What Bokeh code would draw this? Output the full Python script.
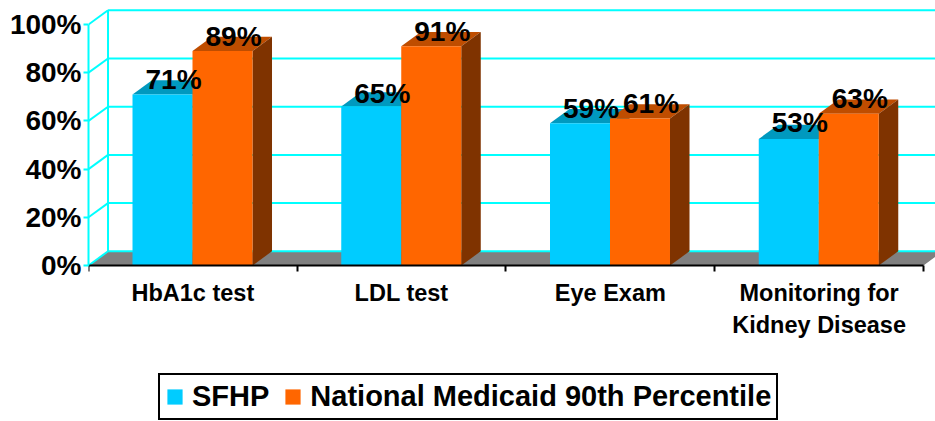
from bokeh.embed import file_html
from bokeh.resources import INLINE
from bokeh.plotting import figure
from bokeh.models import FixedTicker, Legend, LegendItem, ColumnDataSource
from bokeh.core.properties import value

categories = ["HbA1c test", "LDL test", "Eye Exam", "Monitoring for\nKidney Disease"]
sfhp = [71, 66, 59, 52.5]
medicaid = [89, 91, 61, 63]
sfhp_labels = [71, 65, 59, 53]
medicaid_labels = [89, 91, 61, 63]
y_ticks = [0, 20, 40, 60, 80, 100]
series_names = ["SFHP", "National Medicaid 90th Percentile"]

FONT = "Liberation Sans"
CYAN = "#00FFFF"
BAR_W = 0.2874
BAR_GAP = 0.2108
DX = 0.0935   # depth of the 3D box, in category units
DY = 5.9      # depth of the 3D box, in percent units

p = figure(width=935, height=421, output_backend="svg", toolbar_location=None,
           x_range=(0, 4.0575), y_range=(-64.73, 109.96),
           min_border_left=88, min_border_right=0, min_border_top=0, min_border_bottom=0,
           outline_line_color=None, background_fill_color="white", border_fill_color="white")
p.grid.visible = False

n = len(categories)
# floor
p.patch([0, n, n + DX, n + 0.2, DX], [0, 0, DY, DY, DY], fill_color="#808080", line_color=None)
# walls
p.segment([DX] * len(y_ticks), [v + DY for v in y_ticks], [n + 0.2] * len(y_ticks),
          [v + DY for v in y_ticks], line_color=CYAN, line_width=2)
p.segment([0] * len(y_ticks), y_ticks, [DX] * len(y_ticks), [v + DY for v in y_ticks],
          line_color=CYAN, line_width=2)
p.segment([DX], [DY], [DX], [100 + DY], line_color=CYAN, line_width=2)


def box(vals, off, front, top, side):
    lefts = [i + off for i in range(n)]
    rights = [l + BAR_W for l in lefts]
    p.patches([[l, r, r + DX, l + DX] for l, r in zip(lefts, rights)],
              [[v, v, v + DY, v + DY] for v in vals], fill_color=top, line_color=None)
    p.patches([[r, r + DX, r + DX, r] for r in rights],
              [[0, DY, v + DY, v] for v in vals], fill_color=side, line_color=None)
    return p.vbar(x=[(l + r) / 2 for l, r in zip(lefts, rights)], top=vals, bottom=0,
                  width=BAR_W, fill_color=front, line_color=None)


r1 = box(sfhp, BAR_GAP, "#00CCFF", "#0099BF", "#006680")
r2 = box(medicaid, BAR_GAP + BAR_W, "#FF6600", "#BF4D00", "#7F3300")

# value labels
for labs, off in ((sfhp_labels, BAR_GAP), (medicaid_labels, BAR_GAP + BAR_W)):
    src = ColumnDataSource(dict(x=[i + off + BAR_W / 2 + DX / 2 + 0.006 for i in range(n)],
                                y=[v + 6.2 for v in labs], t=[f"{v}%" for v in labs]))
    p.text("x", "y", "t", source=src, text_font=value(FONT), text_font_style="bold",
           text_font_size="28px", text_color="black", text_align="center", text_baseline="middle")

# y axis
ya = p.yaxis[0]
ya.bounds = (0, 100)
ya.ticker = FixedTicker(ticks=y_ticks)
ya.major_label_overrides = {v: f"{v}%" for v in y_ticks}
ya.axis_line_color = CYAN
ya.axis_line_width = 2
ya.major_tick_line_color = CYAN
ya.major_tick_line_width = 2
ya.major_tick_out = 5
ya.major_tick_in = 0
ya.minor_tick_line_color = None
ya.major_label_text_font = FONT
ya.major_label_text_font_style = "bold"
ya.major_label_text_font_size = "28px"
ya.major_label_text_color = "black"
ya.major_label_standoff = 2

# x axis
xa = p.xaxis[0]
xa.fixed_location = 0
xa.bounds = (0, n)
xa.ticker = FixedTicker(ticks=[i + 0.5 for i in range(n)], minor_ticks=list(range(n + 1)))
xa.major_label_overrides = {i + 0.5: c for i, c in enumerate(categories)}
xa.axis_line_color = "black"
xa.axis_line_width = 2
xa.major_tick_line_color = None
xa.minor_tick_line_color = "black"
xa.minor_tick_line_width = 2
xa.minor_tick_out = 6
xa.minor_tick_in = 0
xa.major_label_text_font = FONT
xa.major_label_text_font_style = "bold"
xa.major_label_text_font_size = "23.5px"
xa.major_label_text_color = "black"
xa.major_label_text_line_height = 1.25
xa.major_label_standoff = 8

legend = Legend(items=[LegendItem(label=series_names[0], renderers=[r1]),
                       LegendItem(label=series_names[1], renderers=[r2])],
                orientation="horizontal", location=(70, 1), margin=0, padding=5,
                spacing=14, label_standoff=8, glyph_width=19, glyph_height=19,
                label_text_font=FONT, label_text_font_style="bold", label_text_font_size="29px",
                label_text_color="black", label_height=28,
                border_line_color="black", border_line_alpha=1, border_line_width=2,
                background_fill_color="white")
p.add_layout(legend, "center")

open("out.html", "w").write(file_html(p, INLINE))
